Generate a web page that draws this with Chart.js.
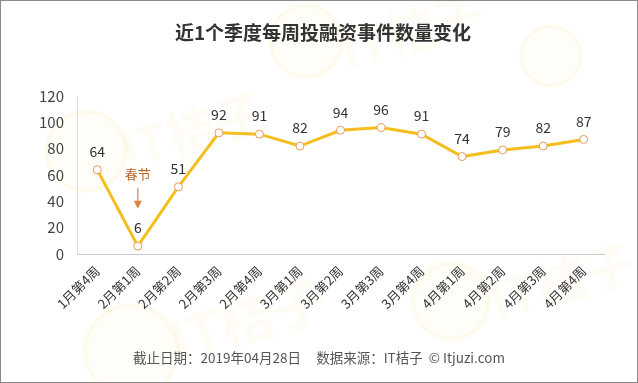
<!DOCTYPE html>
<html><head><meta charset="utf-8">
<script src="https://cdn.jsdelivr.net/npm/chart.js@4"></script>
<style>
html,body{margin:0;padding:0;background:#fff;}
#wrap{position:relative;width:636px;height:381px;border:1px solid #8a8a8a;}
canvas{display:block;}
</style></head>
<body><div id="wrap"><canvas id="c" width="636" height="381"></canvas></div>
<script>
const titleText = '近1个季度每周投融资事件数量变化';
const footerText = '截止日期：2019年04月28日     数据来源：IT桔子  © Itjuzi.com';
const categories = ['1月第4周','2月第1周','2月第2周','2月第3周','2月第4周','3月第1周','3月第2周','3月第3周','3月第4周','4月第1周','4月第2周','4月第3周','4月第4周'];
const values = [64, 6, 51, 92, 91, 82, 94, 96, 91, 74, 79, 82, 87];
const yTicks = [0, 20, 40, 60, 80, 100, 120];
const annotationText = '春节';
const annotationIndex = 1;
const watermarkText = 'IT桔子';

const FONT = '"Microsoft YaHei","Noto Sans CJK SC","Noto Sans",sans-serif';

function logo(ctx, x, y, r) {
  ctx.save();
  ctx.fillStyle = 'rgba(255,242,200,0.13)';
  ctx.strokeStyle = 'rgba(250,228,160,0.16)';
  ctx.lineWidth = 4;
  ctx.beginPath(); ctx.arc(x, y, r, 0, Math.PI * 2); ctx.fill(); ctx.stroke();
  ctx.restore();
}
function wmText(ctx, x, y, size, rot) {
  ctx.save();
  ctx.translate(x, y); ctx.rotate(rot);
  ctx.font = 'bold ' + size + 'px ' + FONT;
  ctx.fillStyle = 'rgba(250,230,165,0.12)';
  ctx.textAlign = 'left'; ctx.textBaseline = 'middle';
  ctx.fillText(watermarkText, 0, 0);
  ctx.restore();
}

const extras = {
  id: 'extras',
  beforeDraw(chart) {
    const ctx = chart.ctx;
    logo(ctx, 85, 150, 40);
    wmText(ctx, 120, 150, 50, -0.28);
    logo(ctx, 305, 40, 36);
    wmText(ctx, 340, 50, 50, -0.28);
    logo(ctx, 550, 55, 30);
    logo(ctx, 130, 350, 46);
    wmText(ctx, 170, 340, 54, -0.28);
    logo(ctx, 450, 300, 38);
    wmText(ctx, 490, 300, 50, -0.28);
  },
  afterDraw(chart) {
    const ctx = chart.ctx;
    ctx.save();
    ctx.textAlign = 'center';
    ctx.textBaseline = 'middle';
    ctx.fillStyle = '#333';
    ctx.font = 'bold 19px ' + FONT;
    ctx.fillText(titleText, 322, 32);
    ctx.fillStyle = '#555';
    ctx.font = '13.5px ' + FONT;
    ctx.fillText(footerText, 318, 357);
    ctx.restore();
  },
  afterDatasetsDraw(chart) {
    const ctx = chart.ctx;
    const meta = chart.getDatasetMeta(0);
    ctx.save();
    ctx.font = '14px ' + FONT;
    ctx.fillStyle = '#333';
    ctx.textAlign = 'center';
    ctx.textBaseline = 'middle';
    meta.data.forEach((p, i) => {
      ctx.fillText(String(values[i]), p.x, p.y - 18);
    });
    const p = meta.data[annotationIndex];
    const yTop = chart.scales.y.getPixelForValue(values[0]);
    ctx.fillStyle = '#B8642A';
    ctx.font = '13px ' + FONT;
    ctx.fillText(annotationText, p.x, yTop + 4);
    ctx.strokeStyle = '#D9834A';
    ctx.lineWidth = 1.2;
    ctx.beginPath();
    ctx.moveTo(p.x, yTop + 18);
    ctx.lineTo(p.x, yTop + 34);
    ctx.stroke();
    ctx.fillStyle = '#D9834A';
    ctx.beginPath();
    ctx.moveTo(p.x - 4, yTop + 31);
    ctx.lineTo(p.x + 4, yTop + 31);
    ctx.lineTo(p.x, yTop + 39);
    ctx.closePath();
    ctx.fill();
    ctx.restore();
  }
};

new Chart(document.getElementById('c'), {
  type: 'line',
  data: {
    labels: categories,
    datasets: [{
      data: values,
      borderColor: '#F4BE1E',
      borderWidth: 3,
      pointBackgroundColor: '#fff',
      pointBorderColor: '#E59A5A',
      pointBorderWidth: 1,
      pointRadius: 4,
      tension: 0
    }]
  },
  options: {
    responsive: false,
    animation: false,
    layout: { padding: { left: 0, right: 33, top: 95, bottom: 58 } },
    plugins: {
      legend: { display: false },
      tooltip: { enabled: false },
      title: { display: false }
    },
    scales: {
      x: {
        offset: true,
        afterFit(s) { s.height = 70; },
        grid: { display: false, drawTicks: false },
        border: { color: '#ccc' },
        ticks: { color: '#333', font: { family: FONT, size: 13 }, maxRotation: 45, minRotation: 45, padding: 9, autoSkip: false }
      },
      y: {
        min: 0, max: 120,
        afterFit(s) { s.width = 76; },
        afterBuildTicks(s) { s.ticks = yTicks.map(v => ({ value: v })); },
        grid: { display: false, drawTicks: false },
        border: { color: '#ddd' },
        ticks: { color: '#444', font: { family: FONT, size: 15 }, padding: 13 }
      }
    }
  },
  plugins: [extras]
});
</script></body></html>
